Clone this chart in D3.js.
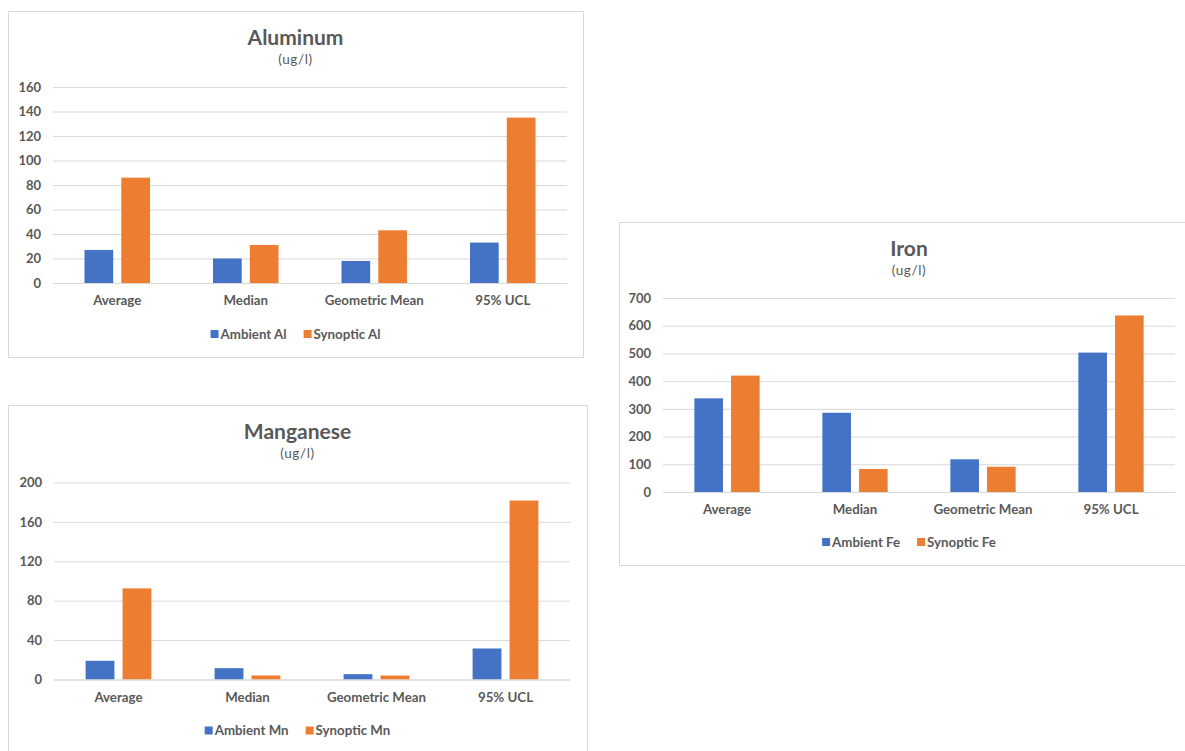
<!DOCTYPE html>
<html>
    <head>
        <script src="https://d3js.org/d3.v7.min.js"></script>
        <style>
            body { margin: 0; background: #fff; }
            text { font-family: Lato, "Open Sans", sans-serif; fill: #595959; }
        </style>
    </head>
    <body>
        <div id="vis"></div>
        <script>
            // values
            const categories = ["Average", "Median", "Geometric Mean", "95% UCL"]

            const alAmbient = [27, 20, 18, 33]
            const alSynoptic = [86, 31, 43, 135]
            const alTicks = [0, 20, 40, 60, 80, 100, 120, 140, 160]

            const mnAmbient = [19, 11.5, 5.4, 31.5]
            const mnSynoptic = [92.5, 4.1, 4, 181.7]
            const mnTicks = [0, 40, 80, 120, 160, 200]

            const feAmbient = [338, 286, 118, 503]
            const feSynoptic = [420, 83, 91, 637]
            const feTicks = [0, 100, 200, 300, 400, 500, 600, 700]

            const colors = ["#4472C4", "#ED7D31"]

            const svg = d3.select("#vis")
                .append("svg")
                .attr("width", 1185)
                .attr("height", 751)

            function drawChart(opt) {
                const g = svg.append("g")
                const f = opt.frame
                const series = opt.series

                g.append("rect")
                    .attr("x", f.x + 0.5).attr("y", f.y + 0.5)
                    .attr("width", f.w).attr("height", f.h)
                    .attr("fill", "#fff")
                    .attr("stroke", "#d9d9d9")
                    .attr("stroke-width", 1)

                const cx = f.x + f.w / 2
                g.append("text")
                    .attr("x", cx).attr("y", f.y + 33.5)
                    .attr("text-anchor", "middle")
                    .attr("font-size", 21)
                    .attr("font-weight", "bold")
                    .text(opt.title)
                g.append("text")
                    .attr("x", cx).attr("y", f.y + 53)
                    .attr("text-anchor", "middle")
                    .attr("font-size", 13.5)
                    .attr("letter-spacing", 0.6)
                    .text("(ug/l)")

                const x0 = d3.scaleBand(categories, opt.xr)
                const x1 = d3.scaleBand(series.map(s => s.name), [x0.bandwidth() * 0.245, x0.bandwidth() * 0.755])
                    .paddingInner(0.22)
                const y = d3.scaleLinear([0, d3.max(opt.ticks)], opt.yr)

                // gridlines + tick labels
                g.append("g")
                    .attr("transform", `translate(${opt.xr[0]},0)`)
                    .call(d3.axisLeft(y).tickValues(opt.ticks).tickSize(-(opt.xr[1] - opt.xr[0])).tickPadding(12))
                    .call(a => a.select(".domain").remove())
                    .call(a => a.selectAll("line").attr("stroke", "#d9d9d9"))
                    .call(a => a.selectAll("text")
                        .attr("font-size", 13).attr("font-weight", "bold")
                        .attr("font-family", "Lato, sans-serif").attr("fill", "#595959"))

                // bars
                series.forEach((s, si) => {
                    g.append("g")
                        .selectAll("rect")
                        .data(s.values)
                        .join("rect")
                        .attr("x", (d, i) => x0(categories[i]) + x1(s.name))
                        .attr("y", d => y(d))
                        .attr("width", x1.bandwidth())
                        .attr("height", d => y(0) - y(d))
                        .attr("fill", colors[si])
                })

                // category labels
                g.append("g")
                    .attr("transform", `translate(0,${opt.yr[0]})`)
                    .call(d3.axisBottom(x0).tickSize(0).tickPadding(13))
                    .call(a => a.select(".domain").attr("stroke", "#d9d9d9"))
                    .call(a => a.selectAll("text")
                        .attr("font-size", 13.3).attr("font-weight", "bold")
                        .attr("font-family", "Lato, sans-serif").attr("fill", "#595959"))

                // legend
                const leg = g.append("g")
                let lx = 0
                series.forEach((s, si) => {
                    const item = leg.append("g").attr("transform", `translate(${lx},0)`)
                    item.append("rect")
                        .attr("x", 0).attr("y", -4)
                        .attr("width", 8).attr("height", 8)
                        .attr("fill", colors[si])
                    const t = item.append("text")
                        .attr("x", 10).attr("y", 4.5)
                        .attr("font-size", 13.3).attr("font-weight", "bold")
                        .text(s.name)
                    lx += 10 + t.node().getComputedTextLength() + 17
                })
                lx -= 17
                leg.attr("transform", `translate(${cx - lx / 2},${opt.yr[0] + opt.legendDy})`)
            }

            drawChart({
                title: "Aluminum",
                frame: {x: 8, y: 11, w: 575, h: 346},
                xr: [53, 567], yr: [283, 87],
                ticks: alTicks,
                legendDy: 51,
                series: [{name: "Ambient Al", values: alAmbient}, {name: "Synoptic Al", values: alSynoptic}]
            })

            drawChart({
                title: "Manganese",
                frame: {x: 8, y: 405, w: 579, h: 360},
                xr: [54, 570], yr: [679.5, 482.5],
                ticks: mnTicks,
                legendDy: 51,
                series: [{name: "Ambient Mn", values: mnAmbient}, {name: "Synoptic Mn", values: mnSynoptic}]
            })

            drawChart({
                title: "Iron",
                frame: {x: 619, y: 222, w: 580, h: 343},
                xr: [663, 1175], yr: [492, 298],
                ticks: feTicks,
                legendDy: 50,
                series: [{name: "Ambient Fe", values: feAmbient}, {name: "Synoptic Fe", values: feSynoptic}]
            })
        </script>
    </body>
</html>
